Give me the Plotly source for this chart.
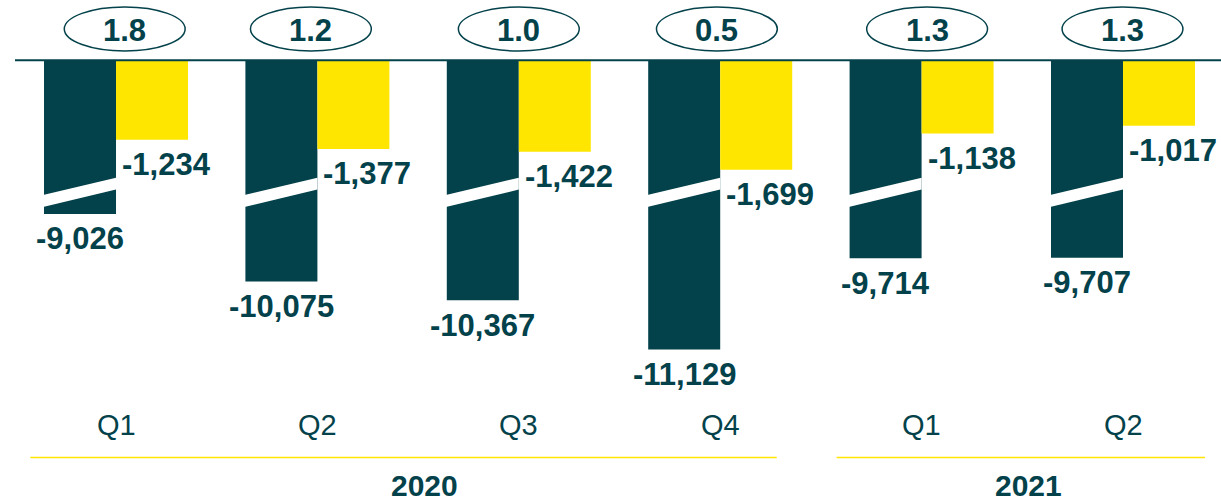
import plotly.graph_objects as go

# Quarterly figures
quarters = ["Q1", "Q2", "Q3", "Q4", "Q1", "Q2"]
years = ["2020", "2020", "2020", "2020", "2021", "2021"]
dark_values = [-9026, -10075, -10367, -11129, -9714, -9707]
yellow_values = [-1234, -1377, -1422, -1699, -1138, -1017]
ratios = [1.8, 1.2, 1.0, 0.5, 1.3, 1.3]

# Styling
TEAL = "#04424B"
YELLOW = "#FFE600"
FONT = "Liberation Sans, Arial, sans-serif"
GROUP_PX = 201.4  # pixel width of one quarter slot
oval_nudge_px = [8.7, -6.5, 0, -3.3, 5.5, -0.5]  # hand placement of the ratio ovals

# The dark bars are drawn on a broken axis: this much is cut out of them
AXIS_CUT = 6640
dark_drawn = [v + AXIS_CUT for v in dark_values]

x = list(range(len(quarters)))
BAR_W = 0.3575  # width of one bar in group units (bargap below)

fig = go.Figure()
fig.add_bar(
    x=x, y=dark_drawn, marker_color=TEAL, marker_line_width=0,
    customdata=dark_values, hovertemplate="%{customdata:,}<extra></extra>",
)
fig.add_bar(
    x=x, y=yellow_values, marker_color=YELLOW, marker_line_width=0,
    hovertemplate="%{y:,}<extra></extra>",
)

shapes = []
annotations = []

# Baseline across the top of the bars
shapes.append(dict(type="line", xref="x", yref="y", x0=-0.5015, x1=5.7, y0=0, y1=0,
                   line=dict(color=TEAL, width=2), layer="above"))

# Slanted white gap marking the axis break on each dark bar
BREAK_LEFT = -2190
BREAK_RIGHT = -1915
HALF_GAP = 93
for i in x:
    x0 = i - BAR_W - 0.01
    x1 = i
    path = (f"M {x0},{BREAK_LEFT + HALF_GAP} L {x1},{BREAK_RIGHT + HALF_GAP} "
            f"L {x1},{BREAK_RIGHT - HALF_GAP} L {x0},{BREAK_LEFT - HALF_GAP} Z")
    shapes.append(dict(type="path", xref="x", yref="y", path=path,
                       fillcolor="white", line=dict(width=0), layer="above"))

# Ratio ovals above each quarter
for i, r, nudge in zip(x, ratios, oval_nudge_px):
    cx = i + nudge / GROUP_PX
    shapes.append(dict(type="circle", xref="x", yref="y", x0=cx - 0.30, x1=cx + 0.30,
                       y0=144, y1=828, line=dict(color=TEAL, width=1.5),
                       fillcolor="white"))
    annotations.append(dict(x=cx, y=470, xref="x", yref="y", text=f"<b>{r:.1f}</b>",
                            showarrow=False, font=dict(family=FONT, size=31, color=TEAL)))

# Value labels
for i, dv, dd, yv in zip(x, dark_values, dark_drawn, yellow_values):
    annotations.append(dict(x=i - BAR_W / 2, y=dd, xref="x", yref="y",
                            text=f"<b>{dv:,}</b>", showarrow=False,
                            yanchor="middle", yshift=-25,
                            font=dict(family=FONT, size=31, color=TEAL)))
    annotations.append(dict(x=i, y=yv, xref="x", yref="y",
                            text=f"<b>{yv:,}</b>", showarrow=False,
                            xanchor="left", xshift=4, yanchor="middle", yshift=-25,
                            font=dict(family=FONT, size=31, color=TEAL)))

# Quarter labels
for i, q in zip(x, quarters):
    annotations.append(dict(x=i, y=1 - 425 / 501, xref="x", yref="paper", text=q,
                            showarrow=False, yanchor="middle",
                            font=dict(family=FONT, size=29, color=TEAL)))

# Year groups: underline and label
year_groups = {}
for i, yr in zip(x, years):
    year_groups.setdefault(yr, []).append(i)
year_line_ends = {"2020": (-0.4255, 0.2805), "2021": (-0.422, 0.407)}
for yr, idx in year_groups.items():
    lo, hi = year_line_ends[yr]
    shapes.append(dict(type="line", xref="x", yref="paper",
                       x0=idx[0] + lo, x1=idx[-1] + hi,
                       y0=1 - 457.5 / 501, y1=1 - 457.5 / 501,
                       line=dict(color=YELLOW, width=1.5)))
    annotations.append(dict(x=(idx[0] + idx[-1]) / 2, y=1 - 485 / 501, xref="x", yref="paper",
                            text=f"<b>{yr}</b>", showarrow=False, xshift=6,
                            yanchor="middle",
                            font=dict(family=FONT, size=30, color=TEAL)))

fig.update_layout(
    width=1221, height=501,
    margin=dict(l=0, r=0, t=0, b=0),
    paper_bgcolor="white", plot_bgcolor="white",
    barmode="group", bargap=0.285, bargroupgap=0,
    showlegend=False,
    shapes=shapes, annotations=annotations,
    xaxis=dict(range=[-0.576, 5.4866], visible=False, fixedrange=True),
    yaxis=dict(range=[-6843, 936], visible=False, fixedrange=True),
)

fig.write_html("out.html")
